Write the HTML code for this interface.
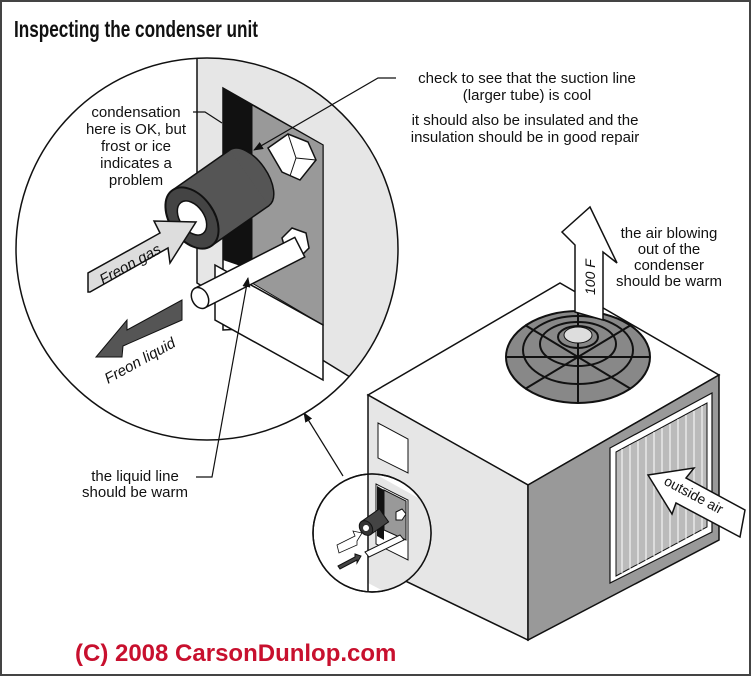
<!DOCTYPE html>
<html><head><meta charset="utf-8"><style>
html,body{margin:0;padding:0;background:#fff}
svg{display:block}
text{font-family:"Liberation Sans",Arial,sans-serif;fill:#111}
</style></head><body>
<svg width="751" height="676" viewBox="0 0 751 676" xmlns="http://www.w3.org/2000/svg">
<defs>
<clipPath id="cc"><circle cx="207" cy="249" r="191"/></clipPath>
<clipPath id="sc"><circle cx="372" cy="533" r="59"/></clipPath>
<marker id="ah" markerWidth="10" markerHeight="8" refX="9" refY="4" orient="auto" markerUnits="userSpaceOnUse"><path d="M0,0 L10,4 L0,8 z" fill="#111"/></marker>
</defs>
<rect x="1" y="1" width="749" height="674" fill="#fff" stroke="#444" stroke-width="2"/>
<text x="14" y="37" font-size="23" font-weight="bold" textLength="244" lengthAdjust="spacingAndGlyphs">Inspecting the condenser unit</text>

<!-- condenser box -->
<polygon points="368,395 560,283 719,375 528,485" fill="#fff" stroke="#111" stroke-width="1.5"/>
<polygon points="368,395 528,485 528,640 368,563" fill="#e6e6e6" stroke="#111" stroke-width="1.5"/>
<polygon points="528,485 719,375 719,540 528,640" fill="#999" stroke="#111" stroke-width="1.5"/>
<polygon points="610,448 712,393 712,532 610,583" fill="#fff" stroke="#111" stroke-width="1.2"/>
<polygon points="616,452 707,403 707,527 616,576" fill="#bbb" stroke="#111"/>
<g stroke="#fff" stroke-width="1">
<line x1="622" y1="449" x2="622" y2="573"/><line x1="630" y1="445" x2="630" y2="569"/><line x1="638" y1="441" x2="638" y2="565"/><line x1="646" y1="437" x2="646" y2="561"/><line x1="654" y1="432" x2="654" y2="556"/><line x1="662" y1="428" x2="662" y2="552"/><line x1="670" y1="424" x2="670" y2="548"/><line x1="678" y1="419" x2="678" y2="543"/><line x1="686" y1="415" x2="686" y2="539"/><line x1="694" y1="411" x2="694" y2="535"/><line x1="702" y1="406" x2="702" y2="530"/>
</g>
<polygon points="378,423 408,439 408,473 378,458" fill="#fff" stroke="#111"/>
<!-- fan -->
<ellipse cx="578" cy="357" rx="72" ry="46" fill="#888" stroke="#111" stroke-width="2"/>
<g fill="none" stroke="#111" stroke-width="2">
<ellipse cx="578" cy="350" rx="55" ry="34"/><ellipse cx="578" cy="344" rx="38" ry="22"/><ellipse cx="578" cy="337" rx="20" ry="11"/>
<line x1="506" y1="357" x2="650" y2="357"/><line x1="578" y1="311" x2="578" y2="403"/>
<line x1="525" y1="325" x2="631" y2="389"/><line x1="631" y1="325" x2="525" y2="389"/>
</g>
<ellipse cx="578" cy="335" rx="14" ry="8" fill="#ddd" stroke="#111"/>
<!-- up arrow -->
<polygon points="575,312 575,245 562,232 590,207 617,263 603,252 603,320" fill="#fff" stroke="#111" stroke-width="1.5"/>
<text transform="translate(595,295) rotate(-90)" font-size="14" font-style="italic">100 F</text>
<!-- outside air arrow -->
<polygon points="648,475 694,468 686,478 745,510 740,537 676,503 672,514" fill="#fff" stroke="#111" stroke-width="1.5"/>
<text transform="translate(663,484) rotate(28)" font-size="14">outside air</text>

<!-- small circle -->
<circle cx="372" cy="533" r="59" fill="#fff" stroke="#111" stroke-width="1.5"/>
<g clip-path="url(#sc)">
<polygon points="368,470 440,510 440,620 368,583" fill="#e6e6e6"/>
<line x1="368" y1="470" x2="368" y2="600" stroke="#111" stroke-width="1.5"/>
<polygon points="376,484 408,500 408,560 376,544" fill="#fff" stroke="#111"/>
<polygon points="377,486 384,490 384,540 377,536" fill="#111"/>
<polygon points="384,490 406,501 406,540 384,530" fill="#999" stroke="#111"/>
</g>
<circle cx="372" cy="533" r="59" fill="none" stroke="#111" stroke-width="1.5"/>
<polygon points="396,512 402,509 406,514 402,520 396,520" fill="#fff" stroke="#111"/>
<g transform="translate(366,528) rotate(-35)">
<rect x="0" y="-8" width="22" height="16" fill="#444" stroke="#111"/>
<ellipse cx="0" cy="0" rx="6" ry="8" fill="#333" stroke="#111"/>
<circle cx="0" cy="0" r="3" fill="#fff"/>
</g>
<polygon points="337,545 355,536 353,531 362,533 357,541 357,545 339,553" fill="#fff" stroke="#111" stroke-width="0.8"/>
<polygon points="365,552 400,535 404,540 369,557" fill="#fff" stroke="#111"/>
<polygon points="338,566 355,557 355,554 361,556 357,563 357,560 340,569" fill="#444" stroke="#111"/>
<line x1="343" y1="476" x2="304" y2="413" stroke="#111" stroke-width="1.2" marker-end="url(#ah)"/>

<!-- big circle -->
<circle cx="207" cy="249" r="191" fill="#fff"/>
<g clip-path="url(#cc)">
<polygon points="197,40 420,40 420,420 197,283" fill="#e6e6e6" stroke="#111" stroke-width="1.5"/>
<polygon points="223,330 223,88 323,145 323,325" fill="#fff" stroke="#111" stroke-width="1.5"/>
<polygon points="223,88 252,105 252,270 223,260" fill="#111"/>
<polygon points="252,105 323,145 323,325 252,283" fill="#999" stroke="#111"/>
<polygon points="215,265 323,325 323,380 215,320" fill="#fff" stroke="#111" stroke-width="1.5"/>
</g>
<circle cx="207" cy="249" r="191" fill="none" stroke="#111" stroke-width="1.5"/>
<!-- nuts -->
<polygon points="268,148 288,134 308,142 316,160 300,180 282,172" fill="#fff" stroke="#111" stroke-width="1.5"/>
<line x1="288" y1="134" x2="296" y2="158" stroke="#111"/><line x1="296" y1="158" x2="316" y2="160" stroke="#111"/><line x1="296" y1="158" x2="290" y2="176" stroke="#111"/>
<polygon points="282,238 292,228 306,233 309,248 298,259 286,252" fill="#fff" stroke="#111" stroke-width="1.5"/>
<!-- insulation cylinder -->
<g transform="translate(192,218) rotate(-35)">
<ellipse cx="70" cy="0" rx="18" ry="34" fill="#555" stroke="#111" stroke-width="1.5"/>
<rect x="0" y="-34" width="70" height="68" fill="#555"/>
<line x1="0" y1="-34" x2="70" y2="-34" stroke="#111" stroke-width="1.5"/>
<line x1="0" y1="34" x2="70" y2="34" stroke="#111" stroke-width="1.5"/>
<ellipse cx="0" cy="0" rx="22" ry="34" fill="#444" stroke="#111" stroke-width="2"/>
<ellipse cx="0" cy="0" rx="12" ry="19" fill="#fff" stroke="#111" stroke-width="1.5"/>
</g>
<!-- tube -->
<g transform="translate(200,298) rotate(-27)">
<rect x="0" y="-11" width="112" height="22" fill="#fff" stroke="#111" stroke-width="1.5"/>
<ellipse cx="0" cy="0" rx="8" ry="11" fill="#fff" stroke="#111" stroke-width="1.5"/>
</g>
<!-- freon gas arrow -->
<polygon points="88,292 88,273 160,233 154,221 196,222 170,263 168,248 90,292" fill="#ddd" stroke="#111" stroke-width="1.5"/>
<text transform="translate(103,285) rotate(-29)" font-size="15" font-style="italic">Freon gas</text>
<!-- freon liquid arrow -->
<polygon points="182,300 182,320 123,346 122,357 96,357 127,320 127,330" fill="#555" stroke="#111"/>
<text transform="translate(108,384) rotate(-29)" font-size="15" font-style="italic">Freon liquid</text>

<!-- labels -->
<g font-size="15" text-anchor="middle">
<text x="136" y="117">condensation</text>
<text x="136" y="134">here is OK, but</text>
<text x="136" y="151">frost or ice</text>
<text x="136" y="168">indicates a</text>
<text x="136" y="185">problem</text>
<text x="135" y="481">the liquid line</text>
<text x="135" y="497">should be warm</text>
<text x="527" y="83">check to see that the suction line</text>
<text x="527" y="100">(larger tube) is cool</text>
<text x="525" y="125">it should also be insulated and the</text>
<text x="525" y="142">insulation should be in good repair</text>
<text x="669" y="238">the air blowing</text>
<text x="669" y="254">out of the</text>
<text x="669" y="270">condenser</text>
<text x="669" y="286">should be warm</text>
</g>
<g fill="none" stroke="#111" stroke-width="1.2">
<polyline points="193,112 205,112 222,123"/>
<polyline points="396,78 378,78 254,150" marker-end="url(#ah)"/>
<polyline points="196,477 212,477 248,278" marker-end="url(#ah)"/>
</g>
<text x="75" y="661" font-size="24" font-weight="bold" style="fill:#c8102e">(C) 2008 CarsonDunlop.com</text>
</svg>
</body></html>
